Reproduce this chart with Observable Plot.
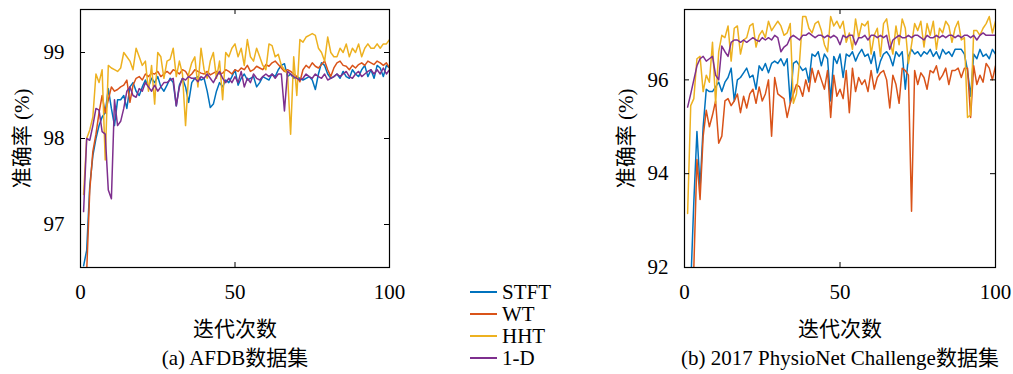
<!DOCTYPE html>
<html><head><meta charset="utf-8">
<script src="https://cdn.jsdelivr.net/npm/d3@7"></script>
<script src="https://cdn.jsdelivr.net/npm/@observablehq/plot@0.6"></script>
<style>
body{margin:0;background:#fff;}
#root{position:relative;width:1013px;height:374px;overflow:hidden;background:#fff;font-family:"Liberation Serif","Times New Roman","DejaVu Serif","Noto Sans CJK SC",serif !important;color:#000;}
#root svg, #root svg text, #root svg g{font-family:"Liberation Serif","Times New Roman","DejaVu Serif","Noto Sans CJK SC",serif !important;}
.panel{position:absolute;top:0;}
.cap{position:absolute;font-size:21px;white-space:nowrap;transform:translate(-50%,-50%);}
.legend{position:absolute;left:470px;top:281px;font-size:21px;}
.legend .row{display:flex;align-items:center;height:22px;}
.legend .sw{width:27px;height:2px;margin-right:5px;}
</style>
</head><body><div id="root"></div>
<script>
const names = ["STFT", "WT", "HHT", "1-D"];
const colors = ["#0072BD", "#D95319", "#EDB120", "#7E2F8E"];
const epochs = d3.range(1, 101);
const xTicks = [0, 50, 100];
const aTicks = [97, 98, 99];
const bTicks = [92, 94, 96];
const aDomain = [96.5, 99.5];
const bDomain = [92, 97.5];

// (a) AFDB
const aSTFT = [96.52,96.7,97.45,97.8,98.0,98.15,98.25,98.3,98.58,98.35,
 98.15,98.45,98.45,98.5,98.35,98.6,98.65,98.55,98.5,98.6,
 98.68,98.6,98.7,98.65,98.72,98.6,98.55,98.62,98.7,98.65,
 98.38,98.62,98.7,98.6,98.42,98.65,98.7,98.72,98.68,98.7,
 98.55,98.36,98.4,98.55,98.65,98.6,98.68,98.65,98.72,98.8,
 98.62,98.7,98.75,98.68,98.7,98.72,98.6,98.65,98.72,98.7,
 98.68,98.75,98.72,98.8,98.85,98.87,98.72,98.75,98.7,98.72,
 98.7,98.68,98.7,98.72,98.68,98.57,98.75,98.88,98.85,98.75,
 98.7,98.72,98.75,98.7,98.78,98.72,98.7,98.8,98.75,98.72,
 98.8,98.85,98.72,98.8,98.7,98.85,98.82,98.72,98.85,98.82];
const aWT = [96.2,96.45,97.4,97.85,98.05,98.3,98.5,98.3,98.45,98.6,
 98.55,98.57,98.6,98.62,98.68,98.42,98.62,98.7,98.72,98.68,
 98.75,98.72,98.76,98.75,98.78,98.72,98.75,98.78,98.75,98.8,
 98.78,98.75,98.8,98.78,98.72,98.75,98.8,98.78,98.76,98.75,
 98.78,98.74,98.76,98.78,98.75,98.76,98.8,98.78,98.75,98.8,
 98.78,98.82,98.8,98.85,98.78,98.8,98.84,98.82,98.8,98.86,
 98.84,98.88,98.9,98.86,98.82,98.78,98.8,98.78,98.75,98.72,
 98.66,98.8,98.85,98.82,98.88,98.84,98.82,98.86,98.9,98.8,
 98.72,98.82,98.88,98.9,98.85,98.84,98.8,98.85,98.82,98.86,
 98.88,98.85,98.9,98.88,98.86,98.9,98.88,98.85,98.88,98.82];
const aHHT = [97.35,98.0,98.1,98.25,98.75,98.65,98.8,97.75,98.85,98.82,
 98.8,98.78,98.82,99.0,98.95,98.9,98.8,99.05,98.95,98.85,
 98.9,98.55,98.85,98.4,99.0,98.95,98.7,98.9,98.92,99.05,
 98.72,98.9,98.75,98.15,98.75,98.88,98.95,98.6,99.05,98.8,
 98.7,98.9,99.0,98.7,98.9,98.45,99.0,98.95,99.05,99.1,
 98.95,99.05,98.85,99.15,98.95,98.9,99.05,98.95,98.85,98.8,
 99.1,99.08,98.95,98.98,98.85,98.8,98.75,98.05,98.95,98.5,
 99.15,99.12,99.18,99.2,99.22,99.2,99.05,99.0,98.9,99.18,
 99.0,98.95,98.95,99.05,99.0,99.1,98.95,99.05,99.0,99.1,
 98.95,99.05,99.1,99.05,99.05,99.1,99.05,99.1,99.1,99.15];
const a1D = [97.15,98.0,97.98,98.15,98.35,98.33,98.08,98.05,97.4,97.3,
 98.45,98.15,98.2,98.35,98.55,98.6,98.5,98.48,98.58,98.55,
 98.65,98.6,98.55,98.62,98.55,98.6,98.65,98.65,98.68,98.7,
 98.38,98.6,98.7,98.68,98.72,98.7,98.7,98.66,98.72,98.7,
 98.75,98.7,98.65,98.72,98.78,98.7,98.65,98.7,98.65,98.72,
 98.65,98.78,98.6,98.7,98.65,98.75,98.7,98.68,98.72,98.75,
 98.72,98.75,98.7,98.75,98.75,98.32,98.78,98.75,98.72,98.7,
 98.68,98.7,98.75,98.72,98.7,98.75,98.72,98.7,98.75,98.68,
 98.7,98.72,98.75,98.72,98.75,98.78,98.72,98.7,98.75,98.78,
 98.72,98.75,98.78,98.8,98.75,98.8,98.75,98.82,98.75,98.8];

// (b) 2017 PhysioNet Challenge
const bSTFT = [91.0,91.6,93.4,94.9,93.7,95.0,95.8,95.75,95.75,95.85,
 95.95,95.75,95.95,96.05,96.25,95.55,96.0,96.05,96.15,96.25,
 96.05,96.1,95.8,96.3,96.2,96.35,96.15,96.35,96.4,96.35,
 96.45,96.3,96.45,95.5,96.35,96.4,96.3,96.2,96.25,95.95,
 96.55,96.5,96.6,96.3,96.55,96.45,95.55,96.5,96.35,96.55,
 96.05,96.55,96.5,96.6,96.4,96.55,96.65,96.5,96.55,96.35,
 96.6,96.15,96.4,96.55,96.6,96.5,96.3,96.6,96.5,96.6,
 95.8,96.5,96.65,96.55,96.6,96.5,96.6,96.55,96.65,96.5,
 96.6,96.45,96.65,96.55,96.6,96.5,96.65,96.65,96.65,96.55,
 96.2,95.65,96.55,96.45,96.65,96.5,96.55,96.45,96.65,96.55];
const bWT = [90.5,91.0,92.0,94.3,93.45,94.8,95.35,95.0,95.25,95.55,
 94.65,94.8,95.55,95.6,95.45,95.55,95.7,95.3,95.65,95.4,
 95.7,95.8,95.5,95.85,95.55,95.7,96.0,94.8,96.05,95.7,
 95.65,95.6,95.2,95.5,95.7,95.9,95.85,95.65,96.0,95.75,
 96.25,95.95,96.2,96.0,95.8,96.2,95.2,96.1,95.65,95.8,
 95.6,96.2,95.3,96.25,95.75,96.05,95.9,96.0,95.75,96.2,
 95.8,96.05,96.15,96.2,96.0,95.4,96.1,95.9,95.5,96.25,
 96.2,96.1,93.2,96.2,95.9,96.15,96.05,95.8,96.2,96.15,
 96.3,96.0,96.1,96.25,95.9,96.2,96.2,96.25,96.05,96.25,
 96.25,95.2,96.3,95.9,96.1,95.95,96.35,96.25,96.0,96.3];
const bHHT = [93.15,95.45,95.6,96.45,96.5,95.75,96.1,95.95,96.8,95.5,
 96.6,96.95,96.9,97.15,96.4,97.1,97.15,96.55,96.85,96.9,
 97.15,97.2,96.7,96.95,97.05,96.9,97.25,97.05,97.15,97.25,
 97.15,96.95,97.0,97.2,95.5,95.7,96.4,97.35,97.35,97.1,
 97.0,97.2,97.25,97.05,96.75,96.6,97.35,97.15,97.25,97.1,
 97.25,96.8,97.0,96.65,97.3,96.9,97.2,97.15,97.25,96.55,
 96.95,97.1,96.5,97.2,97.3,96.85,96.55,97.15,96.75,97.3,
 97.1,96.35,96.75,97.2,97.05,97.25,96.7,97.2,96.95,97.25,
 96.65,97.1,97.0,97.25,97.15,96.8,97.1,97.25,96.85,96.9,
 95.2,95.25,97.05,97.05,96.95,97.1,97.2,97.35,97.0,97.25];
const b1D = [95.42,95.7,96.0,96.3,96.45,96.5,96.4,96.45,96.5,96.1,
 96.0,96.72,96.6,96.5,96.8,96.85,96.85,96.8,96.85,96.8,
 96.85,96.9,96.85,96.82,96.9,96.85,96.9,96.85,96.95,96.9,
 96.6,96.7,96.75,96.9,96.95,96.9,96.85,96.95,96.95,97.0,
 96.95,96.9,96.95,96.95,96.9,96.95,96.9,96.95,96.9,96.75,
 96.95,96.9,96.95,96.95,96.75,96.9,96.9,96.95,96.85,96.95,
 96.95,96.9,96.95,96.9,96.95,96.65,96.85,96.9,96.95,96.9,
 96.9,96.95,96.9,96.95,96.95,96.9,96.85,96.95,96.9,96.9,
 96.95,96.9,96.95,96.9,96.95,96.95,96.9,96.95,96.9,96.95,
 96.95,96.9,96.95,96.85,96.95,97.0,96.95,96.95,96.95,96.95];

const FONT = '"Liberation Serif","Times New Roman","DejaVu Serif","Noto Sans CJK SC",serif';
const fmt = d => String(d);

function panel(series, yDomain, yTicks, width, marginRight) {
  const data = [];
  names.forEach((n, i) => series[i].forEach((v, j) => data.push({method: n, epoch: epochs[j], acc: v})));
  const [lo, hi] = yDomain;
  const plotH = 258, plotW = width - 80 - marginRight;
  const tx = 5 * 100 / plotW;          // 5px tick length in x units
  const ty = 5 * (hi - lo) / plotH;    // 5px tick length in y units
  return Plot.plot({
    width, height: 345, marginLeft: 80, marginRight, marginTop: 9, marginBottom: 78,
    style: {fontFamily: FONT, fontSize: "21px", color: "black", background: "white", overflow: "visible"},
    x: {domain: [0, 100]},
    y: {domain: yDomain},
    color: {domain: names, range: colors},
    marks: [
      Plot.line(data, {x: "epoch", y: "acc", stroke: "method", z: "method", strokeWidth: 1.5, clip: true}),
      Plot.ruleY(yTicks, {x1: () => 0, x2: () => tx, stroke: "black", strokeWidth: 1}),
      Plot.ruleY(yTicks, {x1: () => 100 - tx, x2: () => 100, stroke: "black", strokeWidth: 1}),
      Plot.ruleX([50], {y1: () => lo, y2: () => lo + ty, stroke: "black", strokeWidth: 1}),
      Plot.ruleX([50], {y1: () => hi - ty, y2: () => hi, stroke: "black", strokeWidth: 1}),
      Plot.frame({stroke: "black", strokeWidth: 1.2}),
      Plot.axisX({ticks: xTicks, tickFormat: fmt, tickSize: 0, tickPadding: 17, label: "迭代次数", labelArrow: "none", labelAnchor: "center", labelOffset: 68}),
      Plot.axisY({ticks: yTicks, tickFormat: fmt, tickSize: 0, tickPadding: 16, label: "准确率 (%)", labelArrow: "none", labelAnchor: "center", labelOffset: 66})
    ]
  });
}

const root = document.getElementById("root");
const pa = panel([aSTFT, aWT, aHHT, a1D], aDomain, aTicks, 400, 11);
pa.classList.add("panel"); pa.style.left = "0px";
root.appendChild(pa);
const pb = panel([bSTFT, bWT, bHHT, b1D], bDomain, bTicks, 409, 18);
pb.classList.add("panel"); pb.style.left = "604px";
root.appendChild(pb);

const capA = document.createElement("div");
capA.className = "cap"; capA.style.left = "235px"; capA.style.top = "356px";
capA.textContent = "(a) AFDB数据集";
root.appendChild(capA);
const capB = document.createElement("div");
capB.className = "cap"; capB.style.left = "840px"; capB.style.top = "356px";
capB.textContent = "(b) 2017 PhysioNet Challenge数据集";
root.appendChild(capB);

const leg = document.createElement("div");
leg.className = "legend";
names.forEach((n, i) => {
  const row = document.createElement("div"); row.className = "row";
  const sw = document.createElement("div"); sw.className = "sw"; sw.style.background = colors[i];
  const t = document.createElement("span"); t.textContent = n;
  row.appendChild(sw); row.appendChild(t); leg.appendChild(row);
});
root.appendChild(leg);
</script>
</body></html>
